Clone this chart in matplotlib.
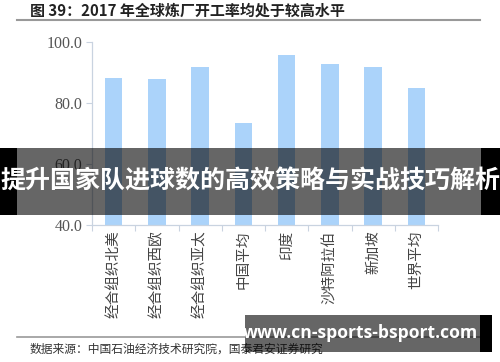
import matplotlib
matplotlib.use("Agg")
import matplotlib.pyplot as plt
from matplotlib.patches import Rectangle
from matplotlib.lines import Line2D

categories = ["经合组织北美", "经合组织西欧", "经合组织亚太", "中国平均", "印度", "沙特阿拉伯", "新加坡", "世界平均"]
values = [88.0, 87.7, 91.8, 73.5, 95.6, 92.6, 91.6, 84.7]
yticks = [40.0, 60.0, 80.0, 100.0]
title = "图 39：2017 年全球炼厂开工率均处于较高水平"
source = "数据来源：中国石油经济技术研究院，国泰君安证券研究"
banner = "提升国家队进球数的高效策略与实战技巧解析"
url = "www.cn-sports-bsport.com"

CJK = ["Noto Sans CJK SC", "DejaVu Sans"]
W, H = 500, 362
fig = plt.figure(figsize=(W / 100, H / 100), dpi=100)
fig.patch.set_facecolor("white")

ax = fig.add_axes([92 / W, 1 - 225 / H, (438 - 92) / W, (225 - 41.7) / H])
x = list(range(len(categories)))
ax.bar(x, values, width=0.4, color="#abd3fa", zorder=2)
ax.set_ylim(40, 100)
ax.set_xlim(-0.5, len(categories) - 0.5)
ax.set_yticks(yticks)
ax.set_yticklabels([f"{v:.1f}" for v in yticks], family="Liberation Serif", fontsize=11.5, color="#555555")
ax.set_xticks(x)
ax.set_xticklabels(categories, rotation=90, family=CJK, fontsize=10.5, color="#444444", va="top", ha="center")
ax.set_xticks([i + 0.5 for i in range(-1, len(categories))], minor=True)
ax.tick_params(axis="x", which="major", length=0, pad=4)
ax.tick_params(axis="x", which="minor", length=4, color="#c9d3e0", width=0.8)
ax.tick_params(axis="y", length=4, color="#c9d3e0", width=0.8, pad=3)
for s in ["top", "right"]:
    ax.spines[s].set_visible(False)
for s in ["left", "bottom"]:
    ax.spines[s].set_color("#c9d3e0")
    ax.spines[s].set_linewidth(0.9)

# title and separators
fig.text(30 / W, 1 - 10.5 / H, title, family=CJK, fontsize=10.8, fontweight="bold", color="#222222", va="center", ha="left")
fig.add_artist(Line2D([17 / W, 480 / W], [1 - 20 / H, 1 - 20 / H], color="#999999", lw=1.5))
fig.add_artist(Line2D([17 / W, 480 / W], [1 - 337 / H, 1 - 337 / H], color="#999999", lw=1.2))
fig.text(30 / W, 1 - 349 / H, source, family=CJK, fontsize=8.5, color="#333333", va="center", ha="left")

# banner overlay
fig.add_artist(Rectangle((0, 1 - 215 / H), 1, 67 / H, transform=fig.transFigure, facecolor="black", alpha=0.6, zorder=10))
fig.add_artist(Rectangle((0, 1 - 215 / H), 17 / W, 67 / H, transform=fig.transFigure, facecolor="black", zorder=11))
fig.add_artist(Rectangle((481 / W, 1 - 215 / H), 19 / W, 67 / H, transform=fig.transFigure, facecolor="black", zorder=11))
fig.text(0.5, 1 - 181 / H, banner, family=CJK, fontsize=18, fontweight="bold", color="white", va="center", ha="center", zorder=12)

# url overlay
fig.add_artist(Rectangle((245 / W, 1 - 352 / H), (480 - 245) / W, 37 / H, transform=fig.transFigure, facecolor="black", alpha=0.6, zorder=10))
fig.add_artist(Rectangle((480 / W, 1 - 352 / H), 12 / W, 37 / H, transform=fig.transFigure, facecolor="black", zorder=11))
fig.text(478 / W, 1 - 333 / H, url, family=["Open Sans", "DejaVu Sans"], fontsize=12.6, fontweight="bold", color="white", va="center", ha="right", zorder=12)

fig.savefig("out.png", dpi=100)
